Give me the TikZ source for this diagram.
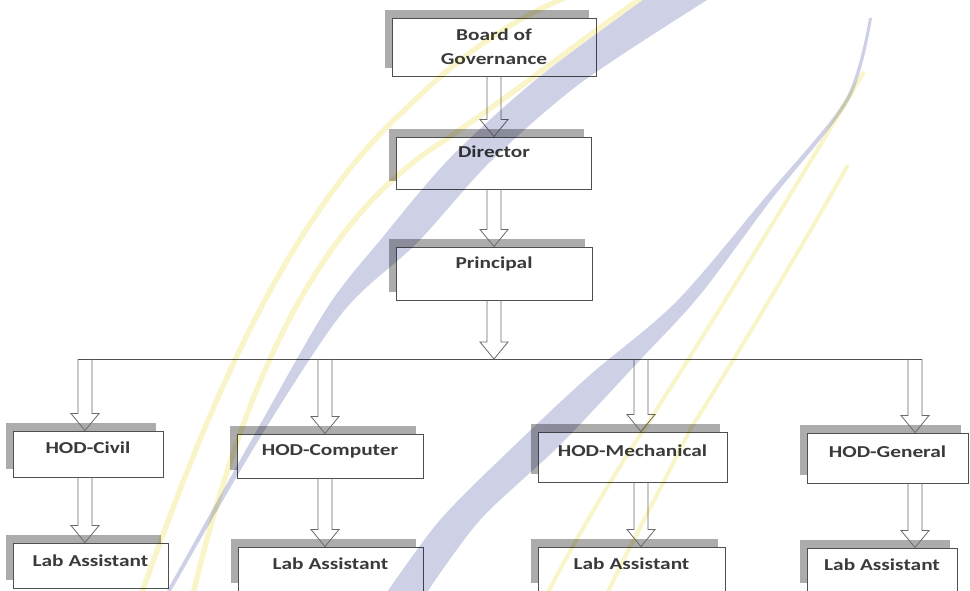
\documentclass[tikz,border=0pt]{standalone}
\usepackage{fontspec}
\setmainfont{Carlito}[FakeStretch=1.28]
\usetikzlibrary{calc, shadows}
\definecolor{frame_gray}{RGB}{80, 80, 80}
\definecolor{shade_gray}{RGB}{172, 172, 172}
\definecolor{ink_gray}{RGB}{58, 58, 58}
\definecolor{mark_blue}{RGB}{206, 209, 230}
\definecolor{mark_yellow}{RGB}{250, 245, 200}

% hollow block arrow: x taken from #1, runs from #2 down to #3
\newcommand{\blockarrow}[3]{%
  \draw[blockline] let \p1=(#1), \p2=(#2), \p3=(#3) in
    (\x1-5.25pt,\y2) -- (\x1-5.25pt,\y3+12.75pt) -- (\x1-10.5pt,\y3+12.75pt) -- (\x1,\y3)
    -- (\x1+10.5pt,\y3+12.75pt) -- (\x1+5.25pt,\y3+12.75pt) -- (\x1+5.25pt,\y2);}

\begin{document}
\begin{tikzpicture}[
    x=0.75pt, y=-0.75pt,
    orgbox/.style={
        rectangle,
        draw=frame_gray,
        fill=white,
        line width=0.7pt,
        text=ink_gray,
        font=\bfseries\fontsize{12.5}{18}\selectfont,
        align=center,
        inner sep=0pt,
        drop shadow={shadow xshift=-5.5pt, shadow yshift=6pt, fill=shade_gray, opacity=1}
    },
    headbox/.style={orgbox, text height=9pt, text depth=16.5pt},
    hodbox/.style={orgbox, text height=9pt, text depth=10pt},
    labbox/.style={orgbox, text height=9pt, text depth=8pt},
    blockline/.style={draw=frame_gray!85, line width=0.6pt},
    busline/.style={draw=frame_gray, line width=0.7pt}
]
\useasboundingbox (0,0) rectangle (970,591);
\fill[white] (0,0) rectangle (970,591);

% Top of the chart
\node[orgbox, minimum width=153pt, minimum height=43.5pt] (board) at (494,47) {Board of\\Governance};
\node[headbox, minimum width=146.25pt, minimum height=39pt] (director) at (494,163) {Director};
\node[headbox, minimum width=147pt, minimum height=39.75pt] (principal) at (494,273.5) {Principal};

% Heads of department
\node[hodbox, minimum width=112.5pt, minimum height=34.5pt] (hodcivil) at (88,454) {HOD-Civil};
\node[hodbox, minimum width=139.5pt, minimum height=33pt] (hodcomp) at (330,456) {HOD-Computer};
\node[hodbox, minimum width=141.75pt, minimum height=37.5pt] (hodmech) at (632.5,457) {HOD-Mechanical};
\node[hodbox, minimum width=120.75pt, minimum height=37.5pt] (hodgen) at (887.5,458) {HOD-General};

% Lab assistants
\node[labbox, minimum width=116.25pt, minimum height=33.75pt] (labcivil) at (90.5,565.5) {Lab Assistant};
\node[labbox, minimum width=138.75pt, minimum height=33pt] (labcomp) at (330.5,569) {Lab Assistant};
\node[labbox, minimum width=140.25pt, minimum height=33pt] (labmech) at (631.5,569) {Lab Assistant};
\node[labbox, minimum width=112.5pt, minimum height=32.25pt] (labgen) at (882,569.5) {Lab Assistant};

% Branch points on the bus line
\coordinate (busC) at (85,359);
\coordinate (busP) at (325,359);
\coordinate (busM) at (641,359);
\coordinate (busG) at (915,359);

% Arrows down the chart
\blockarrow{board.south}{board.south}{director.north}
\blockarrow{director.south}{director.south}{principal.north}
\blockarrow{principal.south}{principal.south}{busC}
\draw[busline] ($(busC)+(-7,0)$) -- ($(busG)+(7,0)$);

\blockarrow{busC}{busC}{hodcivil.north}
\blockarrow{busP}{busP}{hodcomp.north}
\blockarrow{busM}{busM}{hodmech.north}
\blockarrow{busG}{busG}{hodgen.north}

\blockarrow{busC}{hodcivil.south}{labcivil.north}
\blockarrow{busP}{hodcomp.south}{labcomp.north}
\blockarrow{busM}{hodmech.south}{labmech.north}
\blockarrow{busG}{hodgen.south}{labgen.north}

% Watermark stripes
\begin{scope}[blend mode=multiply]
\fill[mark_blue] plot[smooth] coordinates {(715,-5) (582,82) (490,162) (418,242) (343,312) (258,441) (167,598)}
    -- plot[smooth] coordinates {(163,598) (252,439) (327,308) (382,238) (450,158) (538,78) (650,-5)} -- cycle;
\fill[mark_blue] plot[smooth] coordinates {(872,18) (849,100) (771,200) (700,295) (640,360) (560,445) (480,520) (423,598)}
    -- plot[smooth] coordinates {(383,598) (440,520) (515,445) (590,375) (676,302) (763,200) (845,100) (869,18)} -- cycle;
\draw[mark_yellow, line width=4pt] (140,598) .. controls (200,430) and (280,220) .. (410,105) .. controls (470,45) and (530,10) .. (580,-8);
\draw[mark_yellow, line width=4pt] (192,598) .. controls (235,420) and (300,240) .. (430,150) .. controls (520,90) and (580,40) .. (650,-8);
\draw[mark_yellow, line width=3pt] (864,72) .. controls (800,180) and (720,310) .. (650,420) .. controls (610,480) and (575,540) .. (545,598);
\draw[mark_yellow, line width=3pt] (848,165) .. controls (800,250) and (740,350) .. (690,430) .. controls (660,490) and (630,545) .. (605,598);
\end{scope}

\end{tikzpicture}
\end{document}
